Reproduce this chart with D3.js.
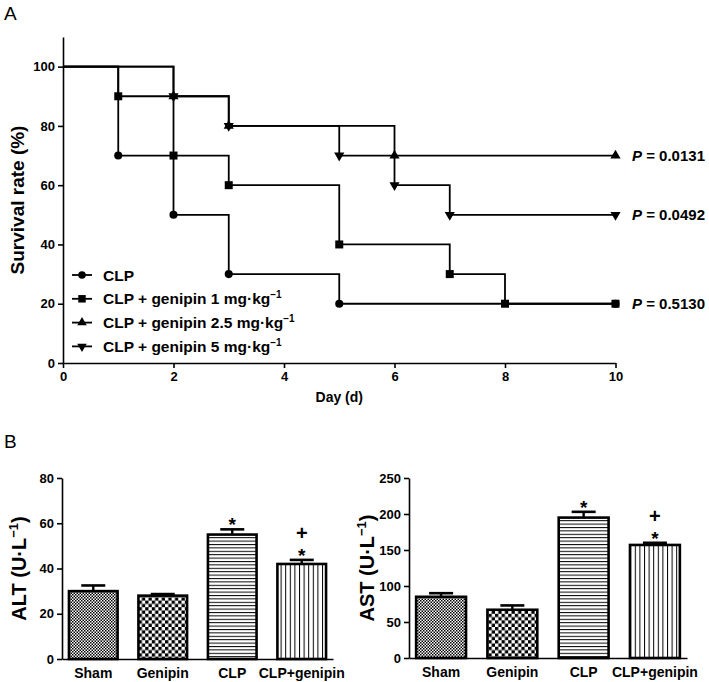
<!DOCTYPE html>
<html>
<head>
<meta charset="utf-8">
<script src="https://cdn.jsdelivr.net/npm/d3@7"></script>
<style>
  html, body { margin: 0; padding: 0; background: #fff; }
  svg { display: block; font-family: "Liberation Sans", Arial, Helvetica, sans-serif; }
</style>
</head>
<body>
<svg id="chart" width="709" height="682"></svg>
<script>
// ---------- Panel A data (Kaplan–Meier steps) ----------
const seriesNames = ["CLP", "CLP + genipin 1 mg·kg", "CLP + genipin 2.5 mg·kg", "CLP + genipin 5 mg·kg"];
const seriesSup = ["", "−1", "−1", "−1"];
const seriesSymbols = ["circle", "square", "triangle", "triangleDown"];
const clpDays = [0, 1, 2, 3, 5, 10];
const clpSurv = [100, 70, 50, 30, 20, 20];
const g1Days = [0, 1, 2, 3, 5, 7, 8, 10];
const g1Surv = [100, 90, 70, 60, 40, 30, 20, 20];
const g25Days = [0, 2, 3, 6, 10];
const g25Surv = [100, 90, 80, 70, 70];
const g5Days = [0, 2, 3, 5, 6, 7, 10];
const g5Surv = [100, 90, 80, 70, 60, 50, 50];
const pLabels = ["0.0131", "0.0492", "0.5130"];
const pLevels = [70, 50, 20];
const survTicks = [0, 20, 40, 60, 80, 100];
const dayTicks = [0, 2, 4, 6, 8, 10];

// ---------- Panel B data ----------
const groups = ["Sham", "Genipin", "CLP", "CLP+genipin"];
const altMean = [30, 28, 55, 42];
const altErr = [32.5, 28.7, 57.3, 43.8];
const astMean = [85, 67, 195, 157];
const astErr = [90, 73, 203, 160];
const altTicks = [0, 20, 40, 60, 80];
const astTicks = [0, 50, 100, 150, 200, 250];
const starMarks = ["", "", "*", "*"];
const plusMarks = ["", "", "", "+"];
const patternIds = ["pSham", "pGen", "pHor", "pVer"];

const svg = d3.select("#chart");

// ---------- Patterns ----------
const defs = svg.append("defs");
{
  const p1 = defs.append("pattern").attr("id", "pSham").attr("patternUnits", "userSpaceOnUse")
    .attr("width", 3).attr("height", 3);
  p1.append("rect").attr("width", 3).attr("height", 3).attr("fill", "#fff");
  p1.append("rect").attr("width", 1.5).attr("height", 1.5).attr("fill", "#000");
  p1.append("rect").attr("x", 1.5).attr("y", 1.5).attr("width", 1.5).attr("height", 1.5).attr("fill", "#000");

  const p2 = defs.append("pattern").attr("id", "pGen").attr("patternUnits", "userSpaceOnUse")
    .attr("width", 6.6).attr("height", 6.6);
  p2.append("rect").attr("width", 6.6).attr("height", 6.6).attr("fill", "#fff");
  p2.append("rect").attr("width", 3.3).attr("height", 3.3).attr("fill", "#000");
  p2.append("rect").attr("x", 3.3).attr("y", 3.3).attr("width", 3.3).attr("height", 3.3).attr("fill", "#000");

  const p3 = defs.append("pattern").attr("id", "pHor").attr("patternUnits", "userSpaceOnUse")
    .attr("width", 10).attr("height", 3.4);
  p3.append("rect").attr("width", 10).attr("height", 3.4).attr("fill", "#fff");
  p3.append("rect").attr("y", 0).attr("width", 10).attr("height", 1).attr("fill", "#000");

  const p4 = defs.append("pattern").attr("id", "pVer").attr("patternUnits", "userSpaceOnUse")
    .attr("width", 4.6).attr("height", 10);
  p4.append("rect").attr("width", 4.6).attr("height", 10).attr("fill", "#fff");
  p4.append("rect").attr("x", 0).attr("width", 1).attr("height", 10).attr("fill", "#000");
}

// ---------- Panel labels ----------
svg.append("text").attr("x", 4).attr("y", 20).attr("font-size", 19).text("A");
svg.append("text").attr("x", 4).attr("y", 448).attr("font-size", 19).text("B");

// ---------- Panel A ----------
const xA = d3.scaleLinear().domain([0, 10]).range([63, 615.5]);
const yA = d3.scaleLinear().domain([0, 110]).range([363, 37]);

function styleAxis(g, fs) {
  g.select(".domain").attr("stroke", "#000").attr("stroke-width", 1.6);
  g.selectAll(".tick line").attr("stroke", "#000").attr("stroke-width", 1.6);
  g.selectAll(".tick text").attr("font-size", fs).attr("font-weight", "bold")
    .attr("font-family", "'Liberation Sans', Arial, sans-serif").attr("fill", "#000");
}

const gyA = svg.append("g").attr("transform", `translate(${xA(0)},0)`)
  .call(d3.axisLeft(yA).tickValues(survTicks).tickSize(5).tickSizeOuter(0).tickPadding(3));
styleAxis(gyA, 13);
const gxA = svg.append("g").attr("transform", `translate(0,${yA(0)})`)
  .call(d3.axisBottom(xA).tickValues(dayTicks).tickSize(5).tickSizeOuter(0).tickPadding(4));
styleAxis(gxA, 13);

svg.append("text").attr("transform", `translate(24,${yA(55)}) rotate(-90)`)
  .attr("text-anchor", "middle").attr("font-size", 19).attr("font-weight", "bold")
  .text("Survival rate (%)");
svg.append("text").attr("x", xA(5)).attr("y", 402).attr("text-anchor", "middle")
  .attr("font-size", 14).attr("font-weight", "bold").text("Day (d)");

const survData = [
  clpDays.map((d, i) => [d, clpSurv[i]]),
  g1Days.map((d, i) => [d, g1Surv[i]]),
  g25Days.map((d, i) => [d, g25Surv[i]]),
  g5Days.map((d, i) => [d, g5Surv[i]])
];

const stepLine = d3.line().x(d => xA(d[0])).y(d => yA(d[1])).curve(d3.curveStepAfter);

function symbolPath(kind, size) {
  if (kind === "circle") return d3.symbol(d3.symbolCircle, size * 0.8)();
  if (kind === "square") return d3.symbol(d3.symbolSquare, size)();
  return d3.symbol(d3.symbolTriangle, size * 0.7)();
}
function symbolRotate(kind) { return kind === "triangleDown" ? " rotate(180)" : ""; }

survData.forEach((pts) => {
  svg.append("path").attr("d", stepLine(pts)).attr("fill", "none")
    .attr("stroke", "#000").attr("stroke-width", 1.8);
});
survData.forEach((pts, si) => {
  const kind = seriesSymbols[si];
  svg.append("g").selectAll("path").data(pts.slice(1)).join("path")
    .attr("d", symbolPath(kind, 64))
    .attr("transform", d => `translate(${xA(d[0])},${yA(d[1])})${symbolRotate(kind)}`)
    .attr("fill", "#000");
});

// P values
pLabels.forEach((p, i) => {
  const t = svg.append("text").attr("x", 632).attr("y", yA(pLevels[i]) + 5.5)
    .attr("font-size", 15).attr("font-weight", "bold");
  t.append("tspan").attr("font-style", "italic").text("P");
  t.append("tspan").text(" = " + p);
});

// Legend
const legY0 = 275, legDy = 23.8;
seriesNames.forEach((name, i) => {
  const y = legY0 + i * legDy;
  svg.append("line").attr("x1", 72).attr("x2", 92).attr("y1", y).attr("y2", y)
    .attr("stroke", "#000").attr("stroke-width", 1.8);
  const kind = seriesSymbols[i];
  svg.append("path").attr("d", symbolPath(kind, 56))
    .attr("transform", `translate(82,${y})${symbolRotate(kind)}`).attr("fill", "#000");
  const t = svg.append("text").attr("x", 103).attr("y", y + 5.5)
    .attr("font-size", 15.5).attr("font-weight", "bold").text(name);
  if (seriesSup[i]) {
    t.append("tspan").attr("dy", -6).attr("font-size", 10).text(seriesSup[i]);
  }
});

// ---------- Panel B ----------
function barChart(opts) {
  const { x0, x1, yTop, yBot, domainMax, ticks, means, errs, label, labelX } = opts;
  const x = d3.scaleBand().domain(groups).range([x0, x1]).paddingInner(0.3).paddingOuter(0.1);
  const y = d3.scaleLinear().domain([0, domainMax]).range([yBot, yTop]);

  const g = svg.append("g");
  g.selectAll("rect.bar").data(groups).join("rect").attr("class", "bar")
    .attr("x", d => x(d)).attr("width", x.bandwidth())
    .attr("y", (d, i) => y(means[i])).attr("height", (d, i) => y(0) - y(means[i]))
    .attr("fill", (d, i) => `url(#${patternIds[i]})`)
    .attr("stroke", "#000").attr("stroke-width", 2.6);
  g.selectAll("line.err").data(groups).join("line").attr("class", "err")
    .attr("x1", d => x(d) + x.bandwidth() / 2).attr("x2", d => x(d) + x.bandwidth() / 2)
    .attr("y1", (d, i) => y(means[i])).attr("y2", (d, i) => y(errs[i]))
    .attr("stroke", "#000").attr("stroke-width", 2.4);
  g.selectAll("line.cap").data(groups).join("line").attr("class", "cap")
    .attr("x1", d => x(d) + x.bandwidth() / 2 - 12).attr("x2", d => x(d) + x.bandwidth() / 2 + 12)
    .attr("y1", (d, i) => y(errs[i])).attr("y2", (d, i) => y(errs[i]))
    .attr("stroke", "#000").attr("stroke-width", 2.6);

  // significance marks
  groups.forEach((grp, i) => {
    const cx = x(grp) + x.bandwidth() / 2;
    const base = y(errs[i]);
    if (starMarks[i]) {
      g.append("text").attr("text-anchor", "middle").attr("font-weight", "bold")
        .attr("font-size", 19).attr("x", cx).attr("y", base + 2).text(starMarks[i]);
    }
    if (plusMarks[i]) {
      g.append("text").attr("text-anchor", "middle").attr("font-weight", "bold")
        .attr("font-size", 20).attr("x", cx).attr("y", base - 20).text(plusMarks[i]);
    }
  });

  const gy = svg.append("g").attr("transform", `translate(${x0},0)`)
    .call(d3.axisLeft(y).tickValues(ticks).tickSize(5).tickSizeOuter(0).tickPadding(3));
  styleAxis(gy, 13);
  const gx = svg.append("g").attr("transform", `translate(0,${yBot})`)
    .call(d3.axisBottom(x).tickSize(0).tickSizeOuter(0).tickPadding(9));
  styleAxis(gx, 14);

  const t = svg.append("text").attr("transform", `translate(${labelX},${(yTop + yBot) / 2}) rotate(-90)`)
    .attr("text-anchor", "middle").attr("font-size", 20).attr("font-weight", "bold");
  t.append("tspan").text(label + " (U·L");
  t.append("tspan").attr("dy", -8).attr("font-size", 13).text("−1");
  t.append("tspan").attr("dy", 8).text(")");
}

barChart({ x0: 62, x1: 333, yTop: 478, yBot: 659, domainMax: 80, ticks: altTicks,
  means: altMean, errs: altErr, label: "ALT", labelX: 26 });
barChart({ x0: 409, x1: 687, yTop: 478, yBot: 658, domainMax: 250, ticks: astTicks,
  means: astMean, errs: astErr, label: "AST", labelX: 374 });
</script>
</body>
</html>
